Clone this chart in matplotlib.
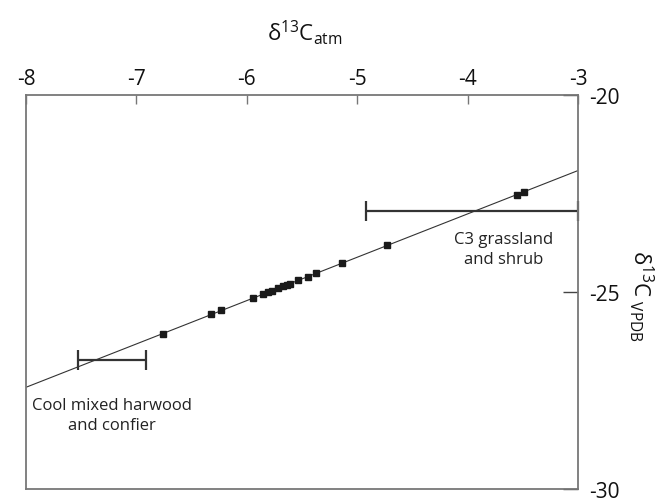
import matplotlib
matplotlib.use('Agg')
import matplotlib.pyplot as plt

# ---------------- Data ----------------
# points on the regression line: d13C_atm (x) vs d13C VPDB (y)
atm_x = [-6.76, -6.32, -6.23, -5.94, -5.85, -5.81, -5.77, -5.72, -5.67,
         -5.64, -5.61, -5.54, -5.45, -5.37, -5.14, -4.73, -3.55, -3.49]
vpdb_y = [-26.06, -25.57, -25.47, -25.15, -25.06, -25.01, -24.97, -24.91, -24.86,
          -24.82, -24.79, -24.71, -24.62, -24.53, -24.27, -23.82, -22.53, -22.46]

# fitted line end points
fit_x = [-8.0, -3.0]
fit_y = [-27.42, -21.92]

# vegetation ranges (x min, x max, y level)
range_names = ['Cool mixed harwood\nand confier', 'C3 grassland\nand shrub']
range_lo = [-7.53, -4.92]
range_hi = [-6.91, -3.0]
range_y = [-26.73, -22.94]
label_x = [-7.22, -3.67]
label_y = [-28.12, -23.91]

x_ticks = [-8, -7, -6, -5, -4, -3]
y_ticks = [-30, -25, -20]

# ---------------- Style ----------------
plt.rcParams['font.family'] = ['Open Sans', 'DejaVu Sans']
plt.rcParams['mathtext.fontset'] = 'custom'
plt.rcParams['mathtext.rm'] = 'Open Sans'
plt.rcParams['mathtext.it'] = 'Open Sans:italic'
plt.rcParams['mathtext.bf'] = 'Open Sans:bold'
plt.rcParams['axes.unicode_minus'] = False

fig = plt.figure(figsize=(6.67, 5.02), dpi=100)
ax = fig.add_axes([0.039, 0.024, 0.8276, 0.785])

ax.plot(fit_x, fit_y, '-', color='#333333', lw=0.8)
ax.plot(atm_x, vpdb_y, 's', color='#1a1a1a', ms=4.5, mec='#1a1a1a')

for lo, hi, yv in zip(range_lo, range_hi, range_y):
    ax.errorbar((lo + hi) / 2, yv, xerr=(hi - lo) / 2, fmt='none',
                ecolor='#333333', elinewidth=1.6, capsize=7, capthick=1.6,
                clip_on=False)

for name, tx, ty in zip(range_names, label_x, label_y):
    ax.text(tx, ty, name, ha='center', va='center', fontsize=12,
            color='#222222', linespacing=1.3)

ax.set_xlim(-8, -3)
ax.set_ylim(-30, -20)
ax.set_xticks(x_ticks)
ax.set_yticks(y_ticks)
ax.set_xticklabels([str(v) for v in x_ticks])
ax.set_yticklabels([str(v) for v in y_ticks])

ax.xaxis.tick_top()
ax.yaxis.tick_right()
ax.tick_params(axis='x', direction='in', length=6.5, width=1, colors='#777777',
               labelcolor='#111111', labelsize=15, pad=4)
ax.tick_params(axis='y', direction='in', length=10.5, width=1, colors='#444444',
               labelcolor='#111111', labelsize=15, pad=8)
for sp in ax.spines.values():
    sp.set_color('#777777')
    sp.set_linewidth(1.3)

fig.text(0.457, 0.936, r'$\mathrm{δ^{13}C_{atm}}$', ha='center', va='center',
         fontsize=16, color='#111111')
fig.text(0.962, 0.41, r'$\mathrm{δ^{13}C_{\ VPDB}}$', ha='center', va='center',
         rotation=270, fontsize=16, color='#111111')

fig.savefig('out.png', dpi=100)
